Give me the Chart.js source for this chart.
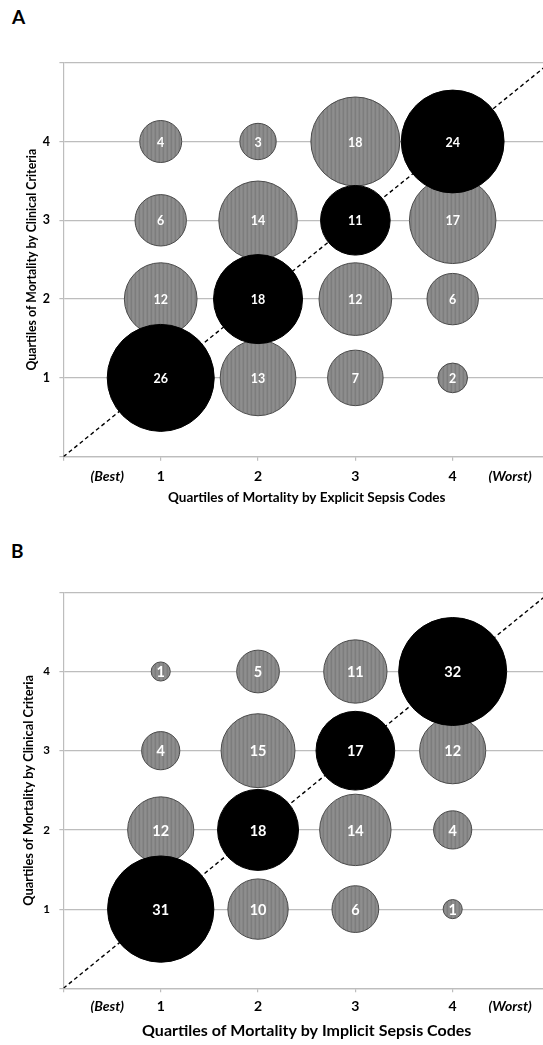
<!DOCTYPE html>
<html>
<head>
<meta charset="utf-8">
<script src="https://cdn.jsdelivr.net/npm/chart.js@4.4.1/dist/chart.umd.min.js"></script>
<style>
  html, body { margin: 0; padding: 0; background: #fff; overflow: hidden; width: 543px; height: 1045px; position: relative; }
  canvas { position: absolute; left: 0; display: block; }
  .tag { position: absolute; font-family: Lato, "Open Sans", sans-serif; font-weight: bold;
         font-size: 19px; line-height: 19px; color: #000; }
</style>
</head>
<body>
<div class="tag" style="left:12px;top:7px">A</div>
<canvas id="chartA" width="552" height="520" style="top:0;width:552px;height:520px"></canvas>
<div class="tag" style="left:11px;top:541px">B</div>
<canvas id="chartB" width="552" height="515" style="top:530px;width:552px;height:515px"></canvas>

<script>
const FONT = 'Lato, "Open Sans", sans-serif';

// Quartile positions on both axes
const QUARTILES = [1, 2, 3, 4];

// Hospital counts, explicit sepsis codes (columns = quartile 1..4), one array per clinical-criteria quartile
const explicitRow4 = [4, 3, 18, 24];
const explicitRow3 = [6, 14, 11, 17];
const explicitRow2 = [12, 18, 12, 6];
const explicitRow1 = [26, 13, 7, 2];

// Hospital counts, implicit sepsis codes
const implicitRow4 = [1, 5, 11, 32];
const implicitRow3 = [4, 15, 17, 12];
const implicitRow2 = [12, 18, 14, 4];
const implicitRow1 = [31, 10, 6, 1];

// Axis ticks
const xTickValues = [0, 0.45, 1, 2, 3, 4, 4.59];
const xTickText = ['', '(Best)', '1', '2', '3', '4', '(Worst)'];
const yTickValues = [0, 1, 2, 3, 4, 5];
const yTickText = ['', '1', '2', '3', '4', ''];

// Line of agreement, y = x
const agreementLine = [0, 5];

// Vertical-stripe fill for the off-diagonal bubbles
function stripeFill() {
  const c = document.createElement('canvas');
  c.width = 4; c.height = 4;
  const g = c.getContext('2d');
  const shades = ['#8b8b8b', '#8e8e8e', '#868686', '#7d7d7d'];
  shades.forEach((s, i) => { g.fillStyle = s; g.fillRect(i, 0, 1, 4); });
  return g.createPattern(c, 'repeat');
}

// White count printed in the middle of every bubble
const valueLabels = {
  id: 'valueLabels',
  afterDatasetsDraw(chart, args, opts) {
    const ctx = chart.ctx;
    ctx.save();
    ctx.fillStyle = '#fff';
    ctx.font = 'bold ' + opts.size + 'px ' + FONT;
    ctx.textAlign = 'center';
    ctx.textBaseline = 'middle';
    chart.data.datasets.forEach((ds, i) => {
      if (ds.type === 'line') return;
      chart.getDatasetMeta(i).data.forEach((el, j) => {
        ctx.fillText(String(ds.data[j].v), el.x, el.y + 1);
      });
    });
    ctx.restore();
  }
};

function buildPanel(canvasId, rows, s) {
  const rowY = [4, 3, 2, 1];
  const onDiag = [], offDiag = [];
  rows.forEach((vals, r) => {
    vals.forEach((v, c) => {
      const p = { x: QUARTILES[c], y: rowY[r], v: v };
      (p.x === p.y ? onDiag : offDiag).push(p);
    });
  });
  const vmax = Math.max(...rows.flat());
  const radius = ctx => {
    const p = ctx.dataset.data[ctx.dataIndex];
    return p ? s.maxR * Math.sqrt(p.v / vmax) : 0;
  };
  const gridGrey = '#bdbdbd';
  const isEndLabel = ctx => ctx.tick && (ctx.tick.value === xTickValues[1] || ctx.tick.value === xTickValues[6]);

  return new Chart(document.getElementById(canvasId), {
    type: 'bubble',
    data: {
      datasets: [
        {
          type: 'line',
          data: agreementLine.map(v => ({ x: v, y: v })),
          borderColor: '#000', borderWidth: 1.4, borderDash: [4, 3],
          pointRadius: 0, fill: false, order: 3
        },
        {
          data: offDiag, backgroundColor: stripeFill(),
          borderColor: '#4a4a4a', borderWidth: 1, radius: radius, order: 2
        },
        {
          data: onDiag, backgroundColor: '#000',
          borderColor: '#000', borderWidth: 1, radius: radius, order: 1
        }
      ]
    },
    options: {
      animation: false,
      responsive: false,
      devicePixelRatio: 1,
      events: [],
      layout: { autoPadding: false, padding: { top: s.padTop, right: 2, bottom: s.padBottom, left: 0 } },
      plugins: {
        legend: { display: false },
        tooltip: { enabled: false },
        valueLabels: { size: s.labelSize }
      },
      scales: {
        x: {
          type: 'linear', min: 0, max: 5,
          afterBuildTicks: axis => { axis.ticks = xTickValues.map(v => ({ value: v })); },
          afterFit: axis => { axis.height = s.xAxisHeight; },
          ticks: {
            autoSkip: false, maxRotation: 0, color: '#000', padding: s.xTickPad,
            callback: (v, i) => xTickText[i],
            font: ctx => ({
              family: FONT, size: s.xTickSize, weight: 'bold',
              style: isEndLabel(ctx) ? 'italic' : 'normal'
            })
          },
          grid: {
            drawOnChartArea: false, tickLength: 4, lineWidth: 1.2,
            tickColor: ctx => (ctx.tick && Number.isInteger(ctx.tick.value)) ? gridGrey : 'rgba(0,0,0,0)'
          },
          border: { color: gridGrey, width: 1.2 },
          title: {
            display: true, text: s.xTitle, color: '#000',
            font: { family: FONT, size: s.xTitleSize, weight: 'bold' },
            padding: { top: 0, bottom: 0 }
          }
        },
        y: {
          type: 'linear', min: 0, max: 5,
          afterBuildTicks: axis => { axis.ticks = yTickValues.map(v => ({ value: v })); },
          afterFit: axis => { axis.width = 63.4; },
          ticks: {
            color: '#000', padding: 9.4,
            callback: (v, i) => yTickText[i],
            font: { family: FONT, size: s.yTickSize, weight: 'bold' }
          },
          grid: { color: gridGrey, lineWidth: 1.2, tickLength: 4 },
          border: { color: gridGrey, width: 1.2 },
          title: {
            display: true, text: s.yTitle, color: '#000',
            font: { family: FONT, size: s.yTitleSize, weight: 'bold' },
            padding: { top: s.yTitlePad, bottom: 0 }
          }
        }
      }
    },
    plugins: [valueLabels]
  });
}

buildPanel('chartA', [explicitRow4, explicitRow3, explicitRow2, explicitRow1], {
  padTop: 62.7, padBottom: 13.9, xAxisHeight: 49.4, maxR: 53.5,
  xTitle: 'Quartiles of Mortality by Explicit Sepsis Codes',
  yTitle: 'Quartiles of Mortality by Clinical Criteria',
  xTitleSize: 13.5, yTitleSize: 12.3, yTitlePad: 24.3,
  xTickSize: 14, xTickPad: 6.9, yTickSize: 12.5, labelSize: 12.5
});

buildPanel('chartB', [implicitRow4, implicitRow3, implicitRow2, implicitRow1], {
  padTop: 62.3, padBottom: 4.7, xAxisHeight: 52, maxR: 54,
  xTitle: 'Quartiles of Mortality by Implicit Sepsis Codes',
  yTitle: 'Quartiles of Mortality by Clinical Criteria',
  xTitleSize: 16, yTitleSize: 12.8, yTitlePad: 20.8,
  xTickSize: 14, xTickPad: 6, yTickSize: 11.5, labelSize: 14.5
});
</script>
</body>
</html>
